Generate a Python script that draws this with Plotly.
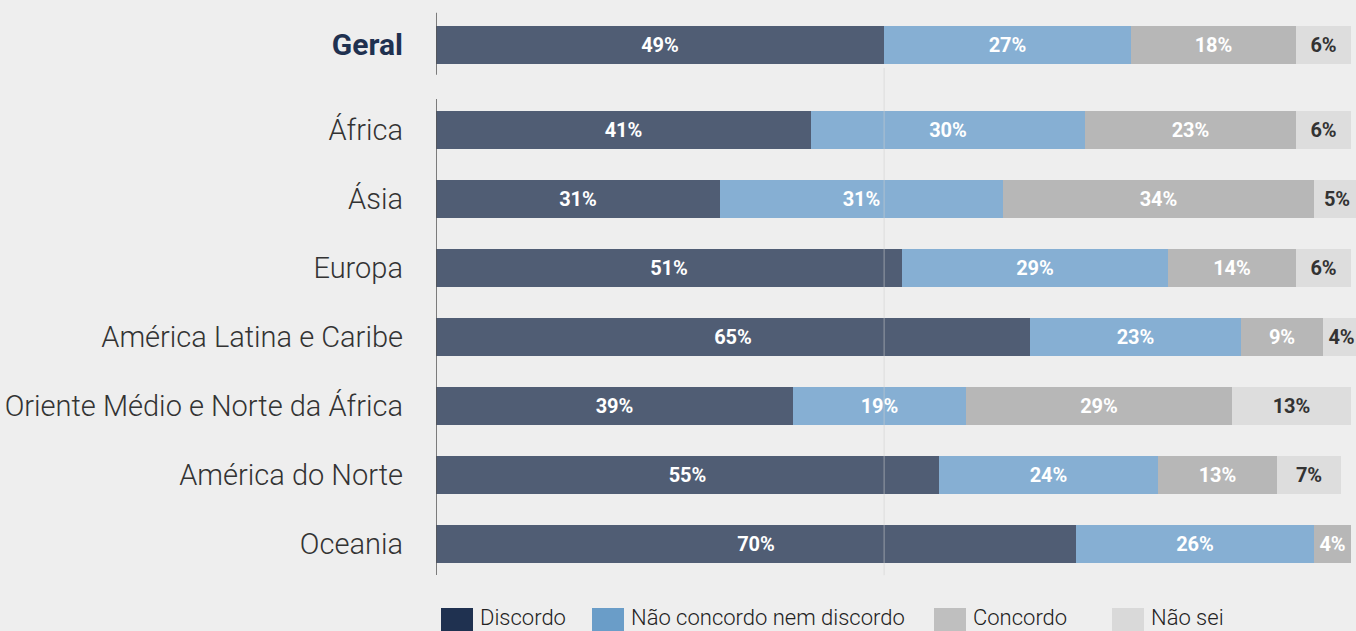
import plotly.graph_objects as go

# Survey responses by region (percent of respondents)
regions = ["Geral", "África", "Ásia", "Europa", "América Latina e Caribe",
           "Oriente Médio e Norte da África", "América do Norte", "Oceania"]
discordo = [49, 41, 31, 51, 65, 39, 55, 70]
nem = [27, 30, 31, 29, 23, 19, 24, 26]
concordo = [18, 23, 34, 14, 9, 29, 13, 4]
nao_sei = [6, 6, 5, 6, 4, 13, 7, 0]

series_names = ["Discordo", "Não concordo nem discordo", "Concordo", "Não sei"]
bar_colors = ["#505d74", "#86afd3", "#b7b7b7", "#dddddd"]
legend_colors = ["#1f3150", "#6a9dc8", "#bfbfbf", "#d9d9d9"]
text_colors = ["#ffffff", "#ffffff", "#ffffff", "#333333"]

# vertical positions: "Geral" sits a little apart from the regional rows
ypos = [7.23, 6, 5, 4, 3, 2, 1, 0]
tick_text = ["<b><span style='color:#1f3150;font-size:30px'>Geral</span></b>"] + regions[1:]

fig = go.Figure()
for name, vals, col, tcol in zip(series_names, [discordo, nem, concordo, nao_sei],
                                 bar_colors, text_colors):
    fig.add_trace(go.Bar(
        y=ypos, x=vals, orientation="h", name=name,
        marker=dict(color=col, line=dict(width=0)),
        width=0.55,
        text=[f"{v}%" if v > 0 else "" for v in vals],
        textposition="inside", insidetextanchor="middle",
        constraintext="none",
        textfont=dict(family="Roboto", size=20, weight=700, color=tcol),
        showlegend=False, hoverinfo="x+name",
    ))

# reference line at the overall "Discordo" share, drawn over the bars
fig.add_shape(type="line", xref="x", yref="y", x0=discordo[0], x1=discordo[0],
              y0=-0.45, y1=6.9,
              line=dict(color="rgba(205,205,205,0.55)", width=1), layer="above")
# broken left axis line
fig.add_shape(type="line", xref="x", yref="y", x0=0, x1=0, y0=6.8, y1=7.7,
              line=dict(color="#555555", width=1.5), layer="above")
fig.add_shape(type="line", xref="x", yref="y", x0=0, x1=0, y0=-0.45, y1=6.45,
              line=dict(color="#555555", width=1.5), layer="above")

# legend row along the bottom
legend_x = [441, 592, 934, 1112]
W, H = 1356, 631
for lx, name, col in zip(legend_x, series_names, legend_colors):
    fig.add_shape(type="rect", xref="paper", yref="paper",
                  x0=(lx - 436) / (W - 436), x1=(lx + 32 - 436) / (W - 436),
                  y0=-2 / H, y1=1 - 608 / H,
                  fillcolor=col, line=dict(width=0), layer="above")
    fig.add_annotation(xref="paper", yref="paper",
                       x=(lx + 37 - 436) / (W - 436), y=1 - 617 / H,
                       text=name, showarrow=False, xanchor="left", yanchor="middle",
                       font=dict(family="Roboto", size=22, weight=300, color="#222222"))

fig.update_layout(
    width=W, height=H,
    margin=dict(l=436, r=0, t=0, b=0),
    paper_bgcolor="#eeeeee", plot_bgcolor="#eeeeee",
    barmode="stack", bargap=0,
    xaxis=dict(range=[0, 100.6], visible=False, fixedrange=True),
    yaxis=dict(range=[-1.26, 7.885], tickvals=ypos, ticktext=tick_text,
               showgrid=False, zeroline=False, showline=False, ticks="",
               ticklabelstandoff=32,
               tickfont=dict(family="Roboto", size=29, weight=300, color="#333333")),
    font=dict(family="Roboto"),
)

fig.write_html("out.html")
